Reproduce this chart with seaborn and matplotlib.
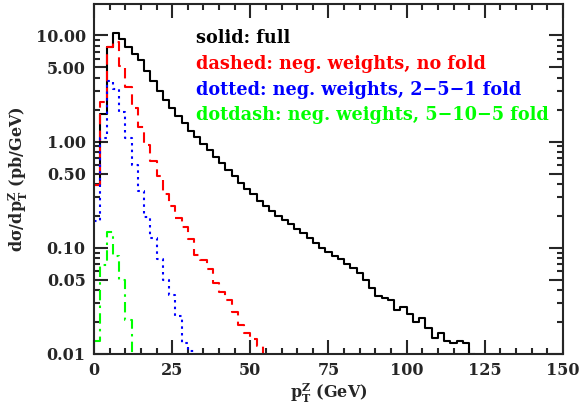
import numpy as np
import pandas as pd
import matplotlib
matplotlib.use("Agg")
import matplotlib.pyplot as plt
import matplotlib.ticker as mticker
import seaborn as sns

# 2 GeV bins, left edges
bin_width = 2.0

# solid: full
full_vals = [0.39, 1.82, 7.8, 10.6, 9.2, 7.7, 6.7, 5.9, 4.6, 3.7,
             3.0, 2.45, 2.05, 1.74, 1.48, 1.26, 1.10, 0.955, 0.83, 0.72,
             0.63, 0.54, 0.47, 0.41, 0.36, 0.32, 0.275, 0.245, 0.224, 0.20,
             0.182, 0.166, 0.151, 0.138, 0.123, 0.112, 0.100, 0.091, 0.083, 0.078,
             0.071, 0.065, 0.058, 0.050, 0.042, 0.035, 0.034, 0.032, 0.026, 0.0275,
             0.024, 0.020, 0.022, 0.0174, 0.0141, 0.0158, 0.0132, 0.0126, 0.0132, 0.0126,
             0.0101]
# dashed: neg. weights, no fold
nofold_vals = [0.39, 2.35, 7.8, 8.7, 5.2, 3.3, 2.05, 1.38, 0.93, 0.65,
               0.47, 0.32, 0.25, 0.19, 0.158, 0.12, 0.086, 0.076, 0.063, 0.047,
               0.038, 0.032, 0.025, 0.0186, 0.0158, 0.0138, 0.012]
# dotted: neg. weights, 2-5-1 fold
fold251_vals = [0.18, 1.08, 3.7, 3.15, 1.9, 1.07, 0.60, 0.34, 0.197, 0.123,
                0.078, 0.050, 0.036, 0.0226, 0.0127, 0.0107]
# dotdash: neg. weights, 5-10-5 fold
fold5105_vals = [0.0132, 0.069, 0.14, 0.083, 0.050, 0.021]

curves = [
    ("full", full_vals, "black", "-", "solid: full"),
    ("nofold", nofold_vals, "#ff0000", (0, (5, 3)), "dashed: neg. weights, no fold"),
    ("fold251", fold251_vals, "#0000ff", (0, (1.2, 2)), "dotted: neg. weights, 2\u22125\u22121 fold"),
    ("fold5105", fold5105_vals, "#00ff00", (0, (5, 2.5, 1.2, 2.5)), "dotdash: neg. weights, 5\u221210\u22125 fold"),
]

sns.set_style("ticks")
plt.rcParams['font.family'] = ['DejaVu Serif']
plt.rcParams['font.weight'] = 'bold'
plt.rcParams['mathtext.fontset'] = 'dejavuserif'
plt.rcParams['axes.linewidth'] = 1.5

fig = plt.figure(figsize=(5.81, 4.09), dpi=100)
ax = fig.add_axes([0.1618, 0.1345, 0.8072, 0.8555])
ax.set_yscale("log")

for name, vals, col, ls, lab in curves:
    # step outline: left edges plus closing right edge that drops off the plot
    xs = list(np.arange(len(vals)) * bin_width) + [len(vals) * bin_width]
    ys = list(vals) + [1e-4]
    df = pd.DataFrame({"pt": xs, "dsig": ys})
    sns.lineplot(data=df, x="pt", y="dsig", ax=ax, color=col, linestyle=ls,
                 linewidth=1.5, drawstyle="steps-post", estimator=None,
                 errorbar=None, sort=False)

ax.set_xlim(0, 150)
ax.set_ylim(0.01, 19.7)

ax.xaxis.set_major_locator(mticker.MultipleLocator(25))
ax.xaxis.set_minor_locator(mticker.MultipleLocator(5))
ymaj = [0.01, 0.05, 0.1, 0.5, 1.0, 5.0, 10.0]
ymin = [k * 10.0**e for e in (-2, -1, 0, 1) for k in range(2, 10)]
ymin = [v for v in ymin if v not in ymaj]
ax.yaxis.set_major_locator(mticker.FixedLocator(ymaj))
ax.yaxis.set_minor_locator(mticker.FixedLocator(ymin))
ax.yaxis.set_major_formatter(mticker.FormatStrFormatter("%.2f"))
ax.yaxis.set_minor_formatter(mticker.NullFormatter())

ax.tick_params(which="both", direction="in", top=True, right=True, width=1.5)
ax.tick_params(which="major", length=10, labelsize=11.5, pad=6)
ax.tick_params(which="minor", length=4.5)
for lbl in ax.get_xticklabels() + ax.get_yticklabels():
    lbl.set_fontweight("bold")

ax.set_xlabel(r"p$_\mathbf{T}^\mathbf{Z}$ (GeV)", fontsize=11.5, fontweight="bold", labelpad=2)
ax.set_ylabel(r"d$\mathbf{\sigma}$/dp$_\mathbf{T}^\mathbf{Z}$ (pb/GeV)", fontsize=11.5,
              fontweight="bold", labelpad=4)

ty = [0.907, 0.8435, 0.780, 0.719]
for (name, vals, col, ls, lab), yy in zip(curves, ty):
    ax.text(196 / 581, yy, lab, transform=fig.transFigure, color=col,
            fontsize=12.7, fontweight="bold", va="center", ha="left")

fig.savefig("out.png", dpi=100)
